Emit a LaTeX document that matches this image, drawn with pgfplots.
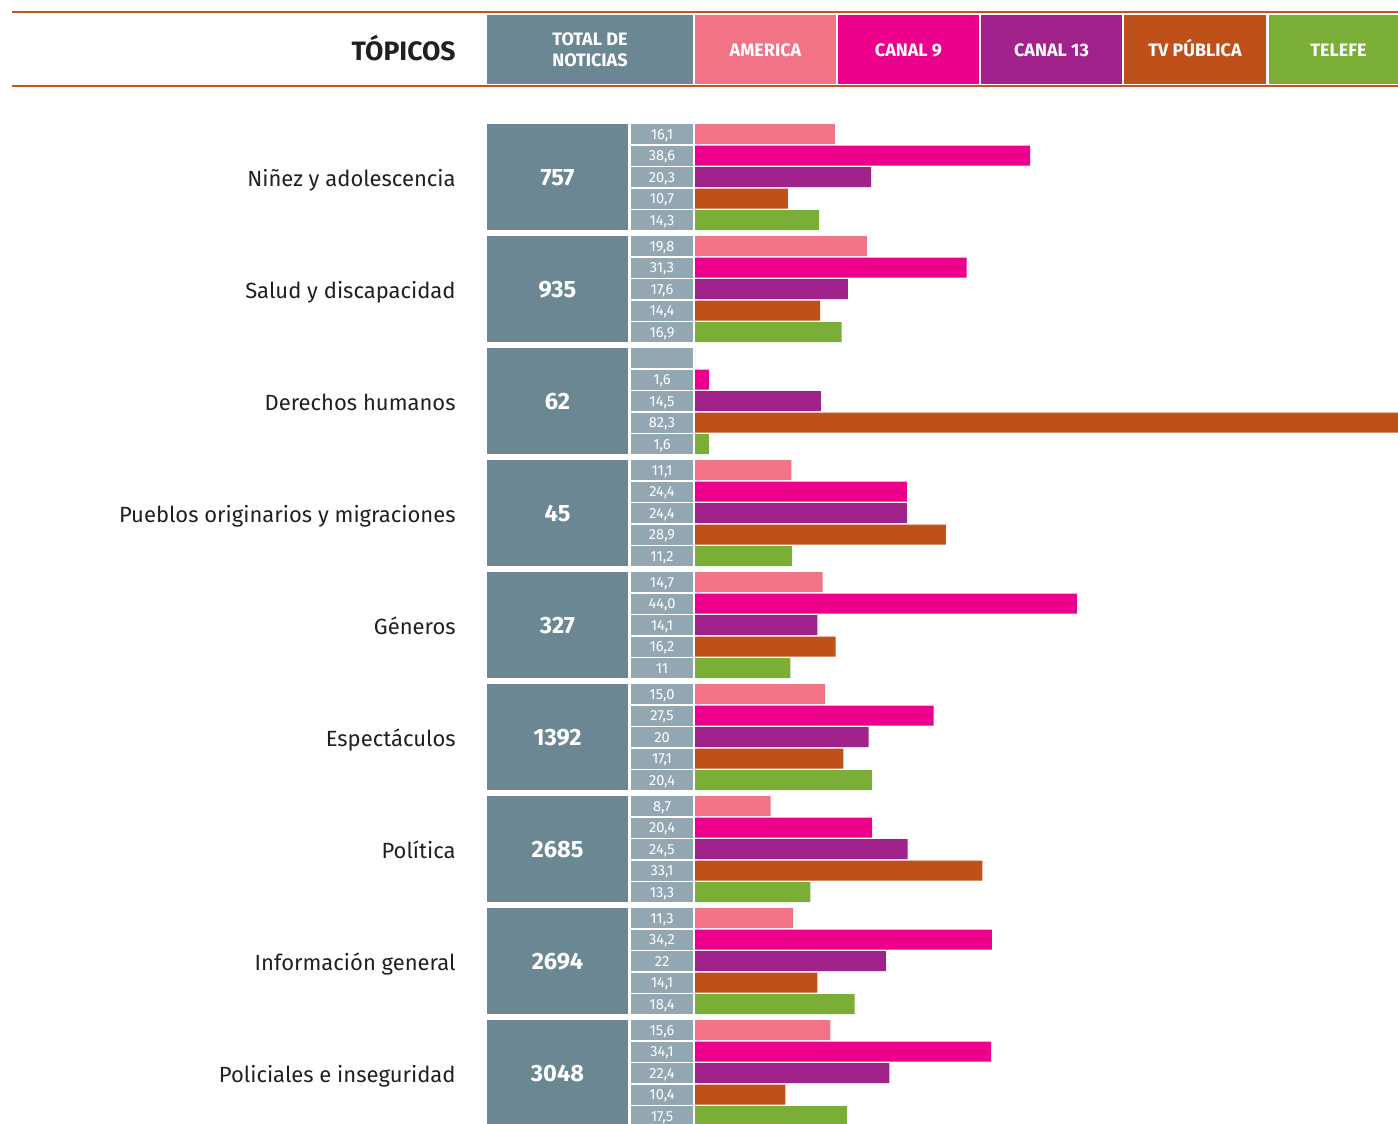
\documentclass[border=0pt]{standalone}
\usepackage{fontspec}
\setmainfont{Fira Sans}
\usepackage{pgfplots}
\usepackage{pgfplotstable}
\pgfplotsset{compat=1.18}

\definecolor{tot}{HTML}{6C8794}
\definecolor{cell}{HTML}{93A7B3}
\definecolor{america}{HTML}{F27386}
\definecolor{canalnueve}{HTML}{EC008C}
\definecolor{canaltrece}{HTML}{A1228B}
\definecolor{tvp}{HTML}{BF5019}
\definecolor{telefe}{HTML}{7BAE37}
\definecolor{rule}{HTML}{C0561E}
\definecolor{txt}{HTML}{231F20}

% g = topic index (0 = Niñez ... 8 = Policiales)
\pgfplotstableread{
g v lab
0 16.1 16,1
1 19.8 19,8
2 0 {}
3 11.1 11,1
4 14.7 14,7
5 15.0 15,0
6 8.7 8,7
7 11.3 11,3
8 15.6 15,6
}\america
\pgfplotstableread{
g v lab
0 38.6 38,6
1 31.3 31,3
2 1.6 1,6
3 24.4 24,4
4 44.0 44,0
5 27.5 27,5
6 20.4 20,4
7 34.2 34,2
8 34.1 34,1
}\canalnueve
\pgfplotstableread{
g v lab
0 20.3 20,3
1 17.6 17,6
2 14.5 14,5
3 24.4 24,4
4 14.1 14,1
5 20 20
6 24.5 24,5
7 22 22
8 22.4 22,4
}\canaltrece
\pgfplotstableread{
g v lab
0 10.7 10,7
1 14.4 14,4
2 82.3 82,3
3 28.9 28,9
4 16.2 16,2
5 17.1 17,1
6 33.1 33,1
7 14.1 14,1
8 10.4 10,4
}\tvp
\pgfplotstableread{
g v lab
0 14.3 14,3
1 16.9 16,9
2 1.6 1,6
3 11.2 11,2
4 11 11
5 20.4 20,4
6 13.3 13,3
7 18.4 18,4
8 17.5 17,5
}\telefe

\pgfplotsset{
  barra/.style={xbar, bar width=20, bar shift=0pt, draw=none, fill=#1},
  etiq/.style={draw=none, mark=none, nodes near coords,
    point meta=explicit symbolic,
    every node near coord/.append style={anchor=base, yshift=-2.5pt,
      text=white, font=\fontsize{7.3}{8}\selectfont, inner sep=0pt}},
}

\begin{document}
\begin{tikzpicture}[x=0.5pt, y=-0.5pt]
\useasboundingbox (0,0) rectangle (1398,1124);

% cabecera
\draw[rule, line width=1.3pt] (12,12) -- (1398,12);
\draw[rule, line width=1.3pt] (12,86) -- (1398,86);
\fill[tot] (487,15) rectangle (693,84);
\fill[america] (695,15) rectangle (836,84);
\fill[canalnueve] (838,15) rectangle (979,84);
\fill[canaltrece] (981,15) rectangle (1122,84);
\fill[tvp] (1124,15) rectangle (1266,84);
\fill[telefe] (1269,15) rectangle (1398,84);
\node[anchor=base east, text=txt, font=\bfseries\fontsize{13.3}{15}\selectfont, inner sep=0pt] at (456,61) {TÓPICOS};
\begin{scope}[every node/.style={text=white, font=\bfseries\fontsize{9}{10}\selectfont, inner sep=0pt, anchor=base}]
\node at (590,45) {TOTAL DE};
\node at (590,66) {NOTICIAS};
\node at (765.5,56) {AMERICA};
\node at (908.5,56) {CANAL 9};
\node at (1051.5,56) {CANAL 13};
\node at (1195,56) {TV PÚBLICA};
\node at (1338.5,56) {TELEFE};
\end{scope}

% cajas de totales y celdas de porcentaje
\foreach \g in {0,...,8} {
  \fill[tot] (487,{124+112*\g}) rectangle (628,{230+112*\g});
  \foreach \r in {0,...,4}
    \fill[cell] (631,{124+112*\g+21.5*\r}) rectangle (693,{144+112*\g+21.5*\r});
}
\foreach \t/\n [count=\i from 0] in {Niñez y adolescencia/757, Salud y discapacidad/935,
    Derechos humanos/62, Pueblos originarios y migraciones/45, Géneros/327,
    Espectáculos/1392, Política/2685, Información general/2694,
    Policiales e inseguridad/3048} {
  \node[anchor=base east, text=txt, font=\fontsize{11}{13}\selectfont, inner sep=0pt]
    at (456,{186+112*\i}) {\t};
  \node[anchor=base, text=white, font=\bfseries\fontsize{11.8}{13}\selectfont, inner sep=0pt]
    at (557.5,{185+112*\i}) {\n};
}

\begin{axis}[
  at={(315.5pt,-562pt)}, anchor=south west,
  scale only axis, width=383.5pt, height=562pt,
  xmin=-7.373, xmax=80.99, ymin=0, ymax=1124,
  y dir=reverse, axis lines=none,
]
\addplot[barra=america] table[x=v, y expr=134+112*\thisrow{g}] {\america};
\addplot[barra=canalnueve] table[x=v, y expr=155.5+112*\thisrow{g}] {\canalnueve};
\addplot[barra=canaltrece] table[x=v, y expr=177+112*\thisrow{g}] {\canaltrece};
\addplot[barra=tvp] table[x=v, y expr=198.5+112*\thisrow{g}] {\tvp};
\addplot[barra=telefe] table[x=v, y expr=220+112*\thisrow{g}] {\telefe};

\addplot[etiq] table[x expr=-3.8, y expr=134+112*\thisrow{g}, meta=lab] {\america};
\addplot[etiq] table[x expr=-3.8, y expr=155.5+112*\thisrow{g}, meta=lab] {\canalnueve};
\addplot[etiq] table[x expr=-3.8, y expr=177+112*\thisrow{g}, meta=lab] {\canaltrece};
\addplot[etiq] table[x expr=-3.8, y expr=198.5+112*\thisrow{g}, meta=lab] {\tvp};
\addplot[etiq] table[x expr=-3.8, y expr=220+112*\thisrow{g}, meta=lab] {\telefe};
\end{axis}
\end{tikzpicture}
\end{document}
